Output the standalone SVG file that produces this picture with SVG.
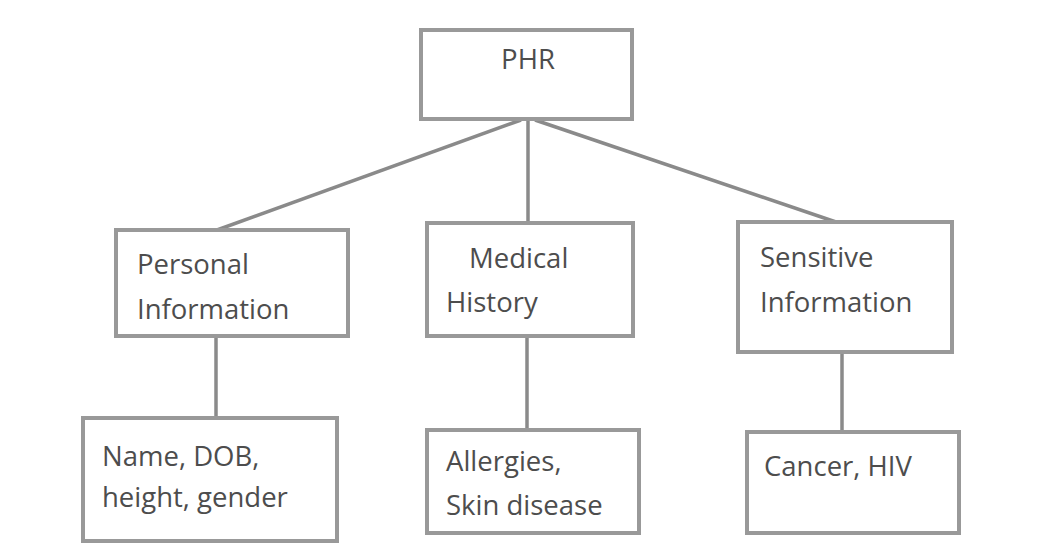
<svg xmlns="http://www.w3.org/2000/svg" width="1043" height="557" viewBox="0 0 1043 557">
<style>
.box{fill:#fff;stroke:#999;stroke-width:4}
.t{font-family:"Open Sans","Liberation Sans",sans-serif;font-size:27.5px;fill:#4d4d4d}
.c{stroke:#8a8a8a;stroke-width:3.5;fill:none}
</style>
<rect width="1043" height="557" fill="#fff"/>
<g id="connectors">
<line class="c" x1="521" y1="120" x2="217" y2="230"/>
<line class="c" x1="528" y1="120" x2="528" y2="223"/>
<line class="c" x1="535" y1="120" x2="836" y2="222"/>
<line class="c" x1="216" y1="336" x2="216" y2="418"/>
<line class="c" x1="527" y1="336" x2="527" y2="430"/>
<line class="c" x1="842" y1="352" x2="842" y2="432"/>
</g>
<g id="phr">
<rect class="box" x="421" y="30" width="211" height="89"/>
<text class="t" x="528" y="69" text-anchor="middle">PHR</text>
</g>
<g id="personal">
<rect class="box" x="116" y="230" width="232" height="106"/>
<text class="t" x="137" y="274">Personal</text>
<text class="t" x="137" y="319">Information</text>
</g>
<g id="medical">
<rect class="box" x="427" y="223" width="206" height="113"/>
<text class="t" x="469" y="268">Medical</text>
<text class="t" x="446" y="312">History</text>
</g>
<g id="sensitive">
<rect class="box" x="738" y="222" width="214" height="130"/>
<text class="t" x="760" y="267">Sensitive</text>
<text class="t" x="760" y="312">Information</text>
</g>
<g id="personal-details">
<rect class="box" x="83" y="418" width="254" height="123"/>
<text class="t" x="102" y="466">Name, DOB,</text>
<text class="t" x="102" y="507">height, gender</text>
</g>
<g id="medical-details">
<rect class="box" x="427" y="430" width="212" height="103"/>
<text class="t" x="446" y="471">Allergies,</text>
<text class="t" x="446" y="515">Skin disease</text>
</g>
<g id="sensitive-details">
<rect class="box" x="747" y="432" width="212" height="101"/>
<text class="t" x="764" y="476">Cancer, HIV</text>
</g>
</svg>
